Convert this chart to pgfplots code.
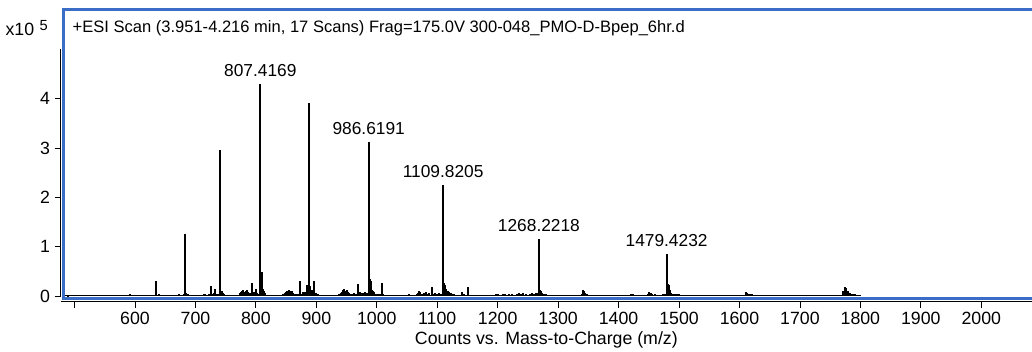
\documentclass[border=0pt]{standalone}
\usepackage{fontspec}
\setmainfont{Liberation Sans}
\usepackage{pgfplots}
\pgfplotsset{compat=1.18}
\definecolor{frameblue}{RGB}{58,110,198}

\pgfplotstableread{
mz v
488 0.02
490 0.01
591 0.04
624 0.02
634.6 0.30
636 0.03
639 0.04
654 0.02
657 0.03
661 0.02
665 0.03
669 0.02
672 0.04
676 0.02
679 0.03
681 0.05
683.4 1.26
685 0.06
687 0.04
690 0.02
702 0.02
706 0.02
712 0.03
714 0.05
716 0.04
719 0.03
722 0.05
724 0.04
726.4 0.20
729 0.05
731 0.06
733 0.14
735 0.05
738 0.04
740.2 2.97
742 0.10
744 0.10
746 0.06
748 0.04
751 0.02
756 0.02
760 0.02
765 0.02
770 0.03
773 0.06
775 0.08
777 0.10
779 0.12
781 0.08
783 0.10
785 0.12
787 0.09
790 0.06
793.7 0.27
796 0.08
798 0.08
800 0.14
802 0.06
804 0.05
807.4 4.30
809.5 0.48
811 0.14
813 0.10
815 0.06
818 0.03
821 0.03
825 0.02
829 0.03
833 0.02
837 0.03
841 0.02
845 0.04
848 0.06
850 0.08
852 0.10
854 0.12
856 0.10
858 0.08
860 0.10
862 0.06
865 0.04
868 0.05
870 0.04
873.5 0.30
876 0.05
878 0.08
880 0.06
882 0.09
884 0.22
886 0.20
888.1 3.91
890 0.20
892 0.12
894 0.08
896.6 0.30
899 0.06
902 0.04
905 0.03
909 0.03
913 0.02
917 0.03
921 0.02
925 0.03
929 0.02
933 0.03
937 0.04
940 0.06
942 0.08
944 0.12
946 0.14
948 0.10
950 0.12
952 0.08
954 0.06
957 0.04
960 0.05
963 0.06
965 0.04
968.8 0.24
971 0.06
973 0.08
975 0.06
977 0.07
979 0.05
981 0.08
983 0.06
986.6 3.12
988.5 0.34
990 0.30
992 0.12
994 0.10
996 0.08
999 0.05
1002 0.04
1005 0.05
1008.5 0.26
1011 0.04
1014 0.03
1018 0.03
1022 0.02
1026 0.03
1030 0.02
1034 0.03
1038 0.02
1042 0.03
1046 0.02
1053.6 0.04
1060 0.02
1066 0.05
1068 0.06
1070 0.10
1072 0.08
1075 0.04
1078 0.06
1081 0.08
1083 0.05
1086 0.06
1091 0.18
1094 0.05
1097 0.06
1100 0.04
1103 0.06
1106 0.05
1109.8 2.25
1111.5 0.26
1113 0.22
1115 0.14
1117 0.10
1119 0.08
1122 0.06
1125 0.05
1128 0.04
1131 0.03
1135 0.02
1141 0.08
1144 0.04
1148 0.03
1151.6 0.18
1155 0.03
1159 0.02
1164 0.03
1170 0.02
1176 0.03
1181 0.02
1186 0.02
1197 0.04
1200 0.05
1204 0.03
1208 0.04
1212 0.05
1215 0.03
1219 0.04
1223 0.05
1226 0.03
1232 0.05
1235 0.06
1238 0.04
1242 0.06
1246 0.05
1250 0.03
1254 0.05
1257 0.06
1260 0.05
1263 0.06
1265 0.07
1268.2 1.15
1270 0.12
1272 0.10
1274 0.07
1277 0.05
1280 0.04
1284 0.03
1288 0.02
1292 0.02
1330 0.02
1339 0.05
1341 0.12
1343 0.11
1345 0.06
1348 0.04
1352 0.03
1356 0.02
1362 0.02
1368 0.02
1414 0.02
1418 0.03
1421 0.04
1424 0.04
1427 0.03
1430 0.02
1436 0.02
1444 0.03
1448 0.05
1451 0.08
1453 0.07
1455 0.05
1458 0.03
1461 0.04
1465 0.02
1470 0.03
1474 0.04
1477 0.05
1479.4 0.85
1481.5 0.24
1483 0.22
1485 0.12
1487 0.07
1490 0.05
1493 0.05
1496 0.04
1500 0.04
1504 0.03
1508 0.02
1576 0.02
1580 0.02
1597 0.02
1602 0.02
1610 0.08
1612 0.07
1615 0.05
1618 0.04
1621 0.04
1625 0.03
1629 0.02
1643 0.02
1712 0.02
1745 0.02
1772 0.10
1775 0.18
1777 0.16
1779 0.10
1782 0.07
1785 0.05
1788 0.05
1791 0.04
1795 0.03
1799 0.02
}\spec

\newcommand{\lbl}{\fontsize{12.4}{15}\selectfont}
\newcommand{\tlbl}{\fontsize{13.3}{16}\selectfont}
\newcommand{\plbl}{\fontsize{13}{16}\selectfont}

\begin{document}
\begin{tikzpicture}
\begin{axis}[
  at={(45.525pt,37.125pt)}, anchor=south west,
  scale only axis, width=728.475pt, height=219pt,
  xmin=477.1, xmax=2083.9, ymin=-0.1116, ymax=5.811,
  axis x line*=bottom, axis y line*=left,
  axis line style={-, black, line width=0.6pt},
  y axis line style={draw=none},
  xtick={500,600,700,800,900,1000,1100,1200,1300,1400,1500,1600,1700,1800,1900,2000},
  xticklabels={,600,700,800,900,1000,1100,1200,1300,1400,1500,1600,1700,1800,1900,2000},
  ytick={0,1,2,3,4},
  yticklabels={0,1,2,3,4},
  tick align=outside, major tick length=4.5pt,
  tick style={black, line width=0.6pt},
  ticklabel style={font=\tlbl},
  xlabel={Counts vs. Mass-to-Charge (m/z)},
  xlabel style={font=\tlbl, at={(axis description cs:0.5,0)}, anchor=base, yshift=-31.9pt},
  clip=false,
]
\addplot[black, line width=0.8pt] coordinates {(483,0.01) (1800,0.01)};
\addplot[ycomb, black, line width=1.5pt, mark=none] table[x=mz, y=v] {\spec};
\draw[frameblue, line width=2.25pt, line join=miter]
  (axis cs:2200,5.811) -- (axis cs:481.7,5.811) -- (axis cs:481.7,-0.0406) -- (axis cs:2200,-0.0406);
\draw[black, line width=0.75pt] (axis cs:477.1,-0.03) -- (axis cs:477.1,5.0);
\node[anchor=base, yshift=5.5pt, font=\plbl] at (axis cs:807.4,4.30) {807.4169};
\node[anchor=base, yshift=5.5pt, font=\plbl] at (axis cs:986.6,3.12) {986.6191};
\node[anchor=base, yshift=5.5pt, font=\plbl] at (axis cs:1109.8,2.25) {1109.8205};
\node[anchor=base, yshift=5.5pt, font=\plbl] at (axis cs:1268.2,1.15) {1268.2218};
\node[anchor=base, yshift=5.5pt, font=\plbl] at (axis cs:1479.4,0.85) {1479.4232};
\end{axis}
\node[anchor=base west, font=\lbl] at (51pt,238.5pt) {+ESI Scan (3.951-4.216 min, 17 Scans) Frag=175.0V 300-048\_PMO-D-Bpep\_6hr.d};
\node[anchor=base west, font=\tlbl, inner sep=0pt] at (4pt,236.25pt) {x10\hspace{4pt}\raisebox{4.5pt}{\fontsize{11}{12}\selectfont 5}};
\pgfresetboundingbox
\path[use as bounding box] (0,0) rectangle (774pt,263.25pt);
\end{tikzpicture}
\end{document}
